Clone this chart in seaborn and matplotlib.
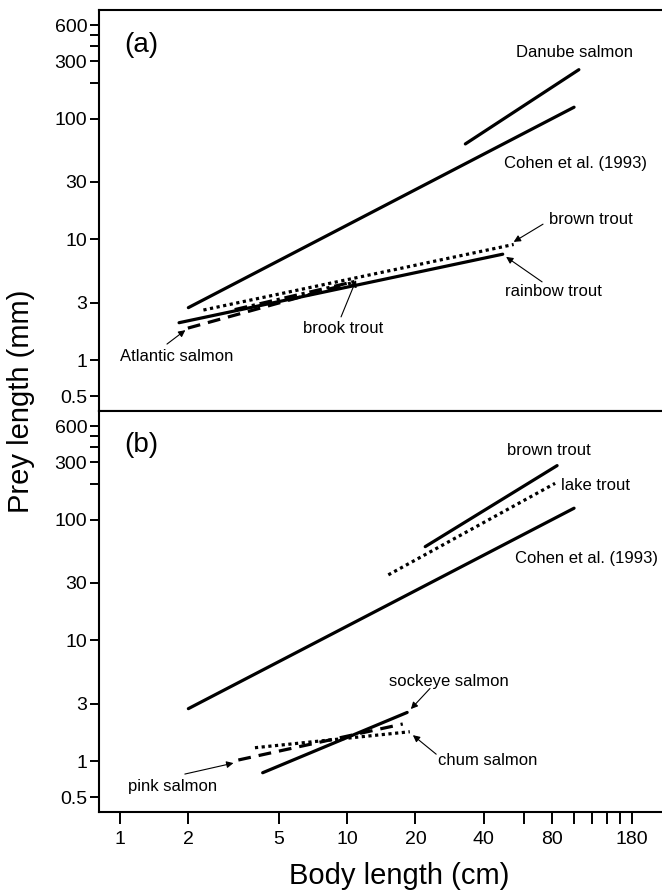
import numpy as np
import pandas as pd
import matplotlib
matplotlib.use("Agg")
import matplotlib.pyplot as plt
from matplotlib.ticker import FixedLocator, NullFormatter
import seaborn as sns

# data: each line is given by its two end points (body length cm, prey length mm)
cohen_x = [2.0, 100]
cohen_y = [2.72, 125]

# panel (a)
danube_x = [33.2, 105]
danube_y = [62, 256]
brown_a_x = [2.33, 54.2]
brown_a_y = [2.6, 9.09]
rainbow_x = [1.82, 48.5]
rainbow_y = [2.04, 7.55]
atlantic_x = [1.99, 10.4]
atlantic_y = [1.84, 4.35]
brook_x = [3.2, 10.9]
brook_y = [2.62, 4.5]

# panel (b)
brown_b_x = [22.1, 84.2]
brown_b_y = [60, 282]
lake_x = [15.2, 82.5]
lake_y = [35, 201]
sockeye_x = [4.25, 18.4]
sockeye_y = [0.8, 2.53]
chum_x = [3.93, 18.9]
chum_y = [1.29, 1.75]
pink_x = [3.32, 17.6]
pink_y = [1.02, 2.03]

y_major = [0.5, 1, 3, 10, 30, 100, 300, 600]
y_minor = [200, 400, 500]
x_major = [1, 2, 5, 10, 20, 40, 80, 180]
x_minor = [60, 100, 120, 140, 160]

sns.set_style("ticks", {"axes.edgecolor": "black", "text.color": "black",
                        "xtick.color": "black", "ytick.color": "black",
                        "axes.labelcolor": "black"})
plt.rcParams['font.family'] = ['Liberation Sans', 'DejaVu Sans']

fig = plt.figure(figsize=(6.62, 8.92), dpi=100)
W, H = 662, 892
ax_a = fig.add_axes([99 / W, 1 - 411 / H, 1 - 99 / W, 401 / H])
ax_b = fig.add_axes([99 / W, 1 - 812 / H, 1 - 99 / W, 401 / H])

solid = dict(color='black', lw=2.3)
dotted = dict(color='black', lw=2.3, dashes=(1, 1.1))
dashed = dict(color='black', lw=2.3, dashes=(4, 2.5))
dashdot = dict(color='black', lw=2.3, dashes=(4, 1.5, 1, 1.5))


def line(ax, x, y, style):
    df = pd.DataFrame({"x": x, "y": y})
    sns.lineplot(data=df, x="x", y="y", ax=ax, **style)


line(ax_a, cohen_x, cohen_y, solid)
line(ax_a, danube_x, danube_y, solid)
line(ax_a, brown_a_x, brown_a_y, dotted)
line(ax_a, rainbow_x, rainbow_y, solid)
line(ax_a, atlantic_x, atlantic_y, dashed)
line(ax_a, brook_x, brook_y, dashdot)

line(ax_b, cohen_x, cohen_y, solid)
line(ax_b, brown_b_x, brown_b_y, solid)
line(ax_b, lake_x, lake_y, dotted)
line(ax_b, sockeye_x, sockeye_y, solid)
line(ax_b, chum_x, chum_y, dotted)
line(ax_b, pink_x, pink_y, dashed)

for ax in (ax_a, ax_b):
    ax.set_xscale('log')
    ax.set_yscale('log')
    ax.set_xlim(0.808, 244)
    ax.set_ylim(0.378, 800)
    ax.set_xlabel('')
    ax.set_ylabel('')
    ax.spines['right'].set_visible(False)
    for s in ax.spines.values():
        s.set_linewidth(1.5)
        s.set_color('black')
    ax.yaxis.set_major_locator(FixedLocator(y_major))
    ax.yaxis.set_minor_locator(FixedLocator(y_minor))
    ax.set_yticklabels([str(v) for v in y_major], fontsize=14)
    ax.yaxis.set_minor_formatter(NullFormatter())
    ax.tick_params(axis='y', which='both', direction='out', length=6.5, width=1.4,
                   pad=2, colors='black')

ax_a.tick_params(axis='x', which='both', bottom=False, labelbottom=False)
ax_b.xaxis.set_major_locator(FixedLocator(x_major))
ax_b.xaxis.set_minor_locator(FixedLocator(x_minor))
ax_b.set_xticklabels([str(v) for v in x_major], fontsize=14)
ax_b.xaxis.set_minor_formatter(NullFormatter())
ax_b.tick_params(axis='x', which='both', direction='out', length=8.5, width=1.4,
                 pad=5, colors='black')

# panel labels
ax_a.text(1.04, 407, '(a)', fontsize=20, va='center', ha='left')
ax_b.text(1.04, 414, '(b)', fontsize=20, va='center', ha='left')

arrow = dict(arrowstyle='-|>', color='black', lw=0.8, mutation_scale=10, shrinkA=0, shrinkB=0)
fs = 12

# panel (a) annotations
ax_a.text(55.5, 356, 'Danube salmon', fontsize=fs, va='center')
ax_a.text(49.2, 42.9, 'Cohen et al. (1993)', fontsize=fs, va='center')
ax_a.text(77.6, 14.7, 'brown trout', fontsize=fs, va='center')
ax_a.annotate('', xy=(54.2, 9.55), xytext=(73, 13.4), arrowprops=arrow)
ax_a.text(49.7, 3.68, 'rainbow trout', fontsize=fs, va='center')
ax_a.annotate('', xy=(50.2, 7.17), xytext=(72.3, 4.45), arrowprops=arrow)
ax_a.text(6.4, 1.84, 'brook trout', fontsize=fs, va='center')
ax_a.annotate('', xy=(10.96, 4.6), xytext=(9.41, 2.28), arrowprops=arrow)
ax_a.text(1.0, 1.08, 'Atlantic salmon', fontsize=fs, va='center')
ax_a.annotate('', xy=(1.94, 1.77), xytext=(1.61, 1.357), arrowprops=arrow)

# panel (b) annotations
ax_b.text(50.5, 376, 'brown trout', fontsize=fs, va='center')
ax_b.text(87.6, 193, 'lake trout', fontsize=fs, va='center')
ax_b.text(55, 47.5, 'Cohen et al. (1993)', fontsize=fs, va='center')
ax_b.text(15.3, 4.55, 'sockeye salmon', fontsize=fs, va='center')
ax_b.annotate('', xy=(19.1, 2.70), xytext=(23.2, 4.0), arrowprops=arrow)
ax_b.text(25.2, 1.02, 'chum salmon', fontsize=fs, va='center')
ax_b.annotate('', xy=(19.5, 1.64), xytext=(24.7, 1.14), arrowprops=arrow)
ax_b.text(1.08, 0.615, 'pink salmon', fontsize=fs, va='center')
ax_b.annotate('', xy=(3.16, 0.962), xytext=(1.93, 0.78), arrowprops=arrow)

fig.text(21 / W, 1 - 401 / H, 'Prey length (mm)', rotation=90, fontsize=21, va='center', ha='center')
fig.text(399 / W, 1 - 876 / H, 'Body length (cm)', fontsize=21, va='center', ha='center')

fig.savefig('out.png', dpi=100)
